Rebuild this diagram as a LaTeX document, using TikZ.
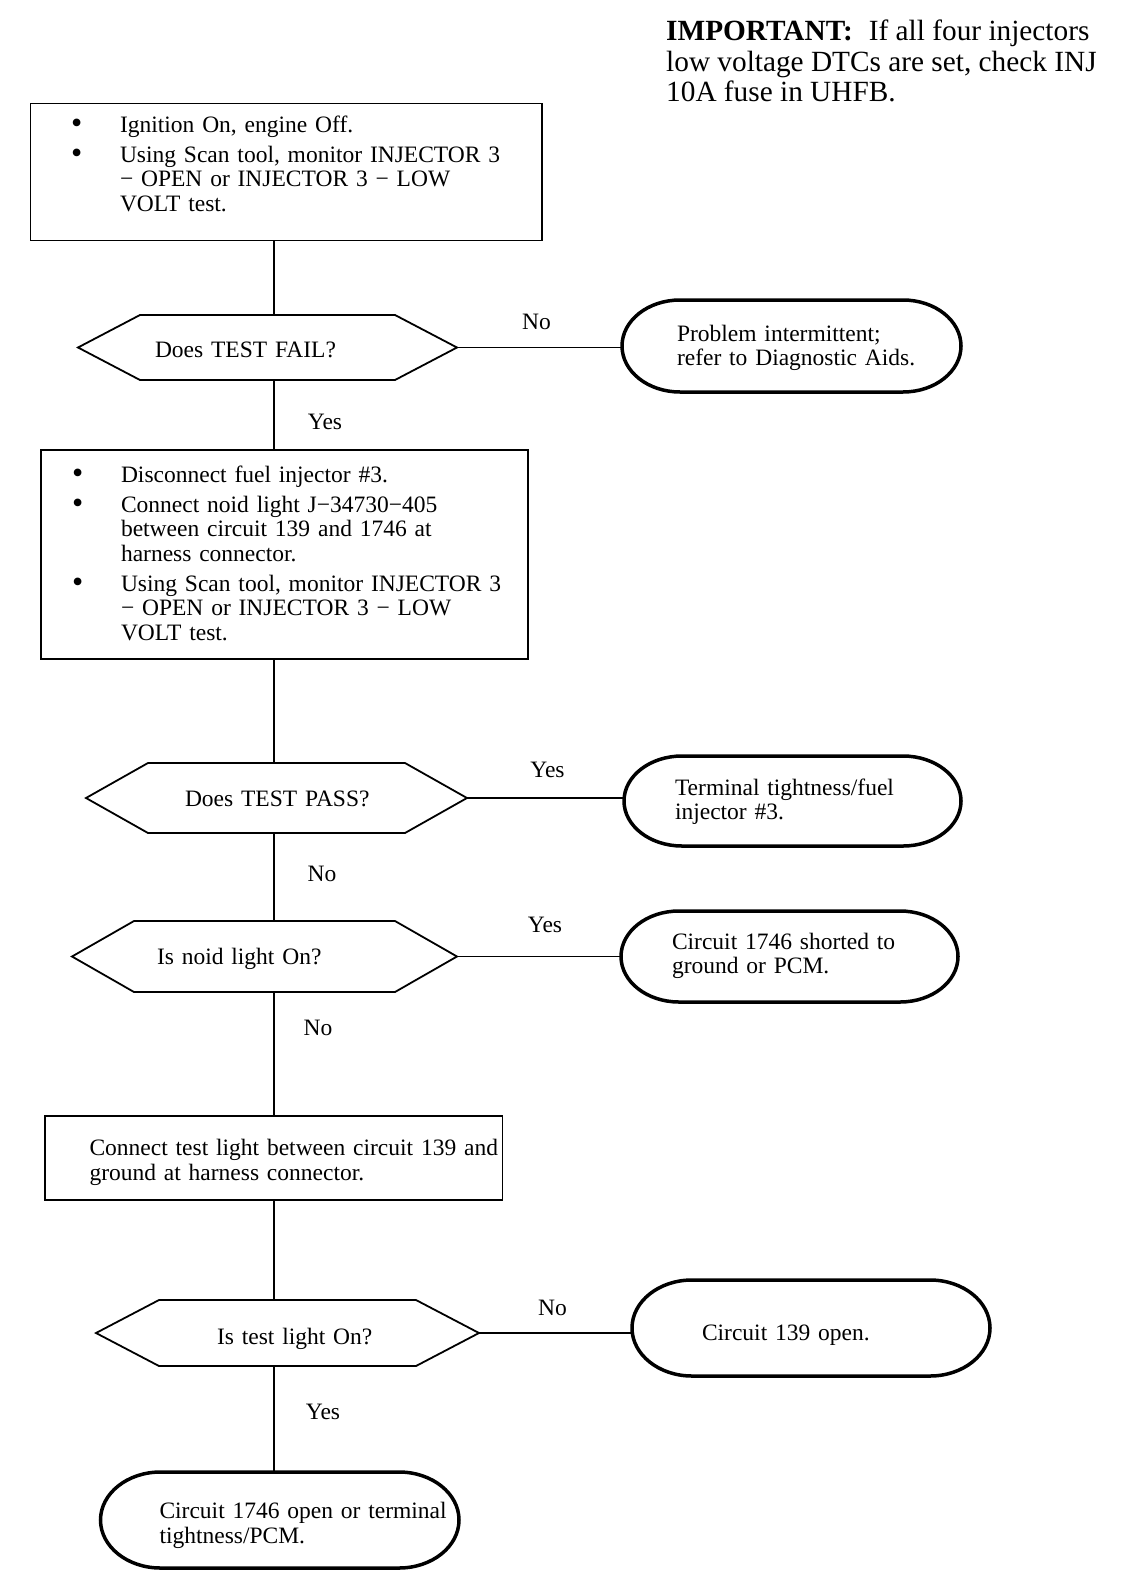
\documentclass[tikz,border=0pt]{standalone}
\usepackage{fontspec}
\setmainfont{Liberation Serif}
\usetikzlibrary{calc}
\newcommand\bul{\makebox[49pt][l]{\raisebox{-1.5pt}{\fontsize{32}{24.5}\selectfont\textbullet}}}
\newcommand\tx[2]{\noindent\raisebox{#1}[\height][\depth]{\begin{tabular}{@{}l@{}}#2\end{tabular}}}
\newcommand\bx[2]{\noindent\raisebox{#1}[\height][\depth]{\begin{tabular}{@{}l@{}l@{}}#2\end{tabular}}}
\newcommand\hexshape[2]{\draw[hexline] (#1.west) -- ([xshift=#2]#1.north west) -- ([xshift=-#2]#1.north east) -- (#1.east) -- ([xshift=-#2]#1.south east) -- ([xshift=#2]#1.south west) -- cycle;}
\newcommand\termshape[3]{\draw[termline] ([xshift=#2]#1.north west) -- ([xshift=-#2]#1.north east) arc[start angle=90,end angle=-90,x radius=#2,y radius=#3] -- ([xshift=#2]#1.south west) arc[start angle=270,end angle=90,x radius=#2,y radius=#3] -- cycle;}
\tikzset{
  every node/.style={font=\fontsize{23.5}{24.5}\selectfont},
  boxnode/.style={draw, line width=1.8pt, rectangle, outer sep=0pt, inner ysep=0pt, align=left, anchor=north west},
  hexnode/.style={rectangle, outer sep=0pt, inner ysep=0pt, align=left},
  termnode/.style={rectangle, outer sep=0pt, inner ysep=0pt, align=left},
  hexline/.style={line width=1.8pt, line join=miter},
  termline/.style={line width=3.5pt},
  conn/.style={line width=1.7pt},
  lbl/.style={inner sep=0pt}
}
\begin{document}
\begin{tikzpicture}[x=1pt,y=-1pt]
\fill[white] (0,0) rectangle (1136,1592);
\useasboundingbox (0,0) rectangle (1136,1592);

\node[anchor=north west, inner sep=0pt, align=left, font=\fontsize{29.3}{30.5}\selectfont] (imp) at (666,20)
 {\textbf{IMPORTANT:}\hspace{16pt}If all four injectors\\low voltage DTCs are set, check INJ\\10A fuse in UHFB.};

\coordinate (spine) at (274,0);

% process boxes
\node[boxnode, minimum width=511.5pt, minimum height=137pt, inner xsep=40.5pt, text width=430.5pt] (b1) at (30.5,103.5)
 {\bx{5pt}{\bul & Ignition On, engine Off.\\[5.5pt]
  \bul & Using Scan tool, monitor INJECTOR 3\\ & − OPEN or INJECTOR 3 − LOW\\ & VOLT test.}};

\node[boxnode, minimum width=487.4pt, minimum height=209pt, inner xsep=31.4pt, text width=424.6pt] (b2) at (40.6,450)
 {\bx{-2pt}{\bul & Disconnect fuel injector \#3.\\[5.5pt]
  \bul & Connect noid light J−34730−405\\ & between circuit 139 and 1746 at\\ & harness connector.\\[5.5pt]
  \bul & Using Scan tool, monitor INJECTOR 3\\ & − OPEN or INJECTOR 3 − LOW\\ & VOLT test.}};

\node[boxnode, minimum width=457.8pt, minimum height=84pt, inner xsep=44.8pt, text width=368.2pt] (b3) at (44.7,1116)
 {\tx{-5pt}{Connect test light between circuit 139 and\\ground at harness connector.}};

% decisions
\node[hexnode, minimum width=379pt, minimum height=65pt, inner xsep=77pt, text width=225pt] (d1) at (267.5,347.5) {\tx{-5pt}{Does TEST FAIL?}};
\hexshape{d1}{62pt}
\node[hexnode, minimum width=381pt, minimum height=70pt, inner xsep=99pt, text width=183pt] (d2) at (276.5,798) {\tx{-4pt}{Does TEST PASS?}};
\hexshape{d2}{62pt}
\node[hexnode, minimum width=385pt, minimum height=71pt, inner xsep=85pt, text width=215pt] (d3) at (264.5,956.5) {\tx{-3pt}{Is noid light On?}};
\hexshape{d3}{62pt}
\node[hexnode, minimum width=383pt, minimum height=66pt, inner xsep=121pt, text width=141pt] (d4) at (287.5,1333) {\tx{-7pt}{Is test light On?}};
\hexshape{d4}{63pt}

% terminals
\node[termnode, minimum width=339pt, minimum height=92pt, inner xsep=55pt, text width=229pt] (t1) at (791.5,346)
 {\tx{-2.5pt}{Problem intermittent;\\refer to Diagnostic Aids.}};
\termshape{t1}{58pt}{46pt}
\node[termnode, minimum width=337pt, minimum height=90pt, inner xsep=51pt, text width=235pt] (t2) at (792.5,801)
 {\tx{-1.5pt}{Terminal tightness/fuel\\injector \#3.}};
\termshape{t2}{58pt}{45pt}
\node[termnode, minimum width=337pt, minimum height=91pt, inner xsep=51pt, text width=235pt] (t3) at (789.5,956.5)
 {\tx{0pt}{Circuit 1746 shorted to\\ground or PCM.}};
\termshape{t3}{58pt}{45.5pt}
\node[termnode, minimum width=358pt, minimum height=96pt, inner xsep=70pt, text width=218pt] (t4) at (811,1328)
 {\tx{-8pt}{Circuit 139 open.}};
\termshape{t4}{60pt}{48pt}
\node[termnode, minimum width=358.5pt, minimum height=96pt, inner xsep=59pt, text width=240.5pt] (t5) at (279.75,1520)
 {\tx{-6pt}{Circuit 1746 open or terminal\\tightness/PCM.}};
\termshape{t5}{60pt}{48pt}

% connectors
\draw[conn] (b1.south -| spine) -- (d1.north -| spine);
\draw[conn] (d1.south -| spine) -- node[lbl, midway, xshift=51pt, yshift=-7pt] {Yes} (b2.north -| spine);
\draw[conn] (d1.east) -- node[lbl, midway, xshift=-3pt, yshift=26pt] {No} (t1.west |- d1.east);
\draw[conn] (b2.south -| spine) -- (d2.north -| spine);
\draw[conn] (d2.east) -- node[lbl, midway, xshift=2pt, yshift=28pt] {Yes} (t2.west |- d2.east);
\draw[conn] (d2.south -| spine) -- node[lbl, midway, xshift=48pt, yshift=3pt] {No} (d3.north -| spine);
\draw[conn] (d3.east) -- node[lbl, midway, xshift=6pt, yshift=32pt] {Yes} (t3.west |- d3.east);
\draw[conn] (d3.south -| spine) -- node[lbl, midway, xshift=44pt, yshift=26pt] {No} (b3.north -| spine);
\draw[conn] (b3.south -| spine) -- (d4.north -| spine);
\draw[conn] (d4.east) -- node[lbl, midway, xshift=-3pt, yshift=25pt] {No} (t4.west |- d4.east);
\draw[conn] (d4.south -| spine) -- node[lbl, midway, xshift=49pt, yshift=7pt] {Yes} (t5.north -| spine);
\end{tikzpicture}
\end{document}
